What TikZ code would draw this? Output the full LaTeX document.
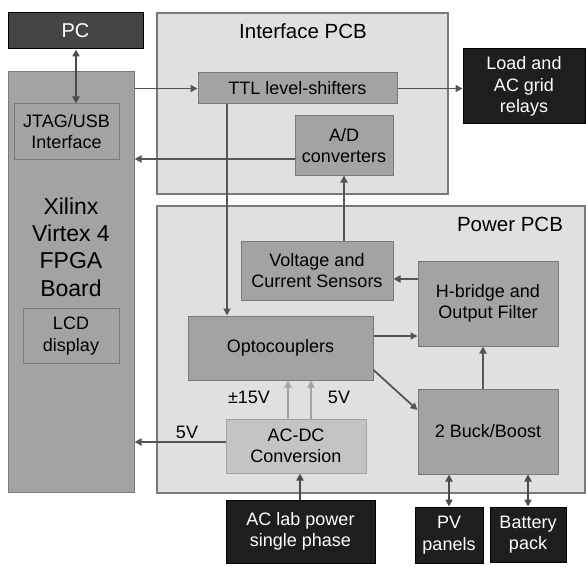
\documentclass[tikz,border=0pt]{standalone}
\usepackage{fontspec}
\setmainfont{Liberation Sans}
\definecolor{boardgray}{HTML}{A3A3A3}
\definecolor{pcbgray}{HTML}{E0E0E0}
\definecolor{edgegray}{HTML}{7A7A7A}
\definecolor{darkbox}{HTML}{1E1E1E}
\definecolor{pcbox}{HTML}{454545}
\definecolor{acdcgray}{HTML}{C4C4C4}
\definecolor{wiregray}{HTML}{555555}
\usepackage{tikz}
\usetikzlibrary{arrows.meta, positioning, calc}
\tikzset{
	blocknode/.style={
			rectangle,
			draw=edgegray,
			line width=1pt,
			fill=boardgray,
			align=center,
			inner sep=0pt,
			font=\fontsize{18}{21.5}\selectfont
		},
	darknode/.style={
			blocknode,
			draw=black,
			fill=darkbox,
			text=white
		},
	pcbnode/.style={
			blocknode,
			draw=edgegray,
			line width=2pt,
			fill=pcbgray
		},
	lightnode/.style={
			blocknode,
			draw=boardgray,
			fill=acdcgray
		},
	arr/.style={
			draw=wiregray,
			line width=1.8pt,
			-{Triangle[length=7pt,width=7pt]}
		},
	dblarr/.style={
			arr,
			draw=darkbox!80,
			{Triangle[length=7pt,width=7pt]}-{Triangle[length=7pt,width=7pt]}
		},
	lightarr/.style={
			arr,
			draw=boardgray
		}
}

\begin{document}
\begin{tikzpicture}[x=1pt, y=-1pt]
\useasboundingbox[fill=white] (0,0) rectangle (586,567);

% boards
\node[pcbnode, minimum width=291, minimum height=181] (ifpcb) at (302.5,103.5) {};
\node[pcbnode, minimum width=428, minimum height=287] (pwrpcb) at (371,349.5) {};
\node[blocknode, minimum width=126, minimum height=420] (fpga) at (71,282) {};
\node[font=\fontsize{20.5}{24}\selectfont] (iftitle) at (303,31) {Interface PCB};
\node[font=\fontsize{20.5}{24}\selectfont] (pwrtitle) at (510,224) {Power PCB};
\node[align=center, font=\fontsize{23}{27.3}\selectfont] (fpgatext) at (71,247) {Xilinx\\Virtex 4\\FPGA\\Board};

% outside world
\node[darknode, fill=pcbox, minimum width=135, minimum height=36, font=\fontsize{20}{24}\selectfont] (pc) at (75.5,31) {PC};
\node[darknode, minimum width=122, minimum height=75] (load) at (524,86.5) {Load and\\AC grid\\relays};
\node[darknode, minimum width=149, minimum height=63] (aclab) at (300.5,531.5) {AC lab power\\single phase};
\node[darknode, minimum width=68, minimum height=56] (pv) at (449,535) {PV\\panels};
\node[darknode, minimum width=76, minimum height=55] (batt) at (528,534.5) {Battery\\pack};

% blocks
\node[blocknode, minimum width=105, minimum height=55] (jtag) at (66.5,131.5) {JTAG/USB\\Interface};
\node[blocknode, minimum width=96, minimum height=55] (lcd) at (71,336) {LCD\\display};
\node[blocknode, minimum width=199, minimum height=31] (ttl) at (297.5,88.5) {TTL level-shifters};
\node[blocknode, minimum width=98, minimum height=59] (adc) at (344,145.5) {A/D\\converters};
\node[blocknode, minimum width=152, minimum height=59] (sens) at (317,270.5) {Voltage and\\Current Sensors};
\node[blocknode, minimum width=140, minimum height=85] (hbr) at (488,303.5) {H-bridge and\\Output Filter};
\node[blocknode, minimum width=185, minimum height=64] (opto) at (280.5,348) {Optocouplers};
\node[lightnode, minimum width=140, minimum height=54] (acdc) at (296,446) {AC-DC\\Conversion};
\node[blocknode, minimum width=140, minimum height=85] (buck) at (488,431.5) {2 Buck/Boost};

% voltage labels
\node[font=\fontsize{18}{21.5}\selectfont] (v15) at (249,397) {±15V};
\node[font=\fontsize{18}{21.5}\selectfont] (v5a) at (339,397) {5V};
\node[font=\fontsize{18}{21.5}\selectfont] (v5b) at (187,432) {5V};

% connections
\draw[dblarr] (pc.south -| 76,0) -- (jtag.north -| 76,0);
\draw[arr] (fpga.east |- ttl.west) -- (ttl.west);
\draw[arr] (adc.west |- 0,159) -- (fpga.east |- 0,159);
\draw[arr] (ttl.east) -- (load.west |- ttl.east);
\draw[arr] (ttl.south -| 227,0) -- (opto.north -| 227,0);
\draw[arr] (sens.north -| adc.south) -- (adc.south);
\draw[arr] (hbr.west |- 0,279) -- (sens.east |- 0,279);
\draw[arr] (opto.east |- 0,336) -- (hbr.west |- 0,336);
\draw[arr] (opto.east |- 0,370) -- (buck.west |- 0,410);
\draw[arr] (buck.north -| 483,0) -- (hbr.south -| 483,0);
\draw[lightarr] (acdc.north -| 288,0) -- (opto.south -| 288,0);
\draw[lightarr] (acdc.north -| 311,0) -- (opto.south -| 311,0);
\draw[arr] (acdc.west |- 0,442) -- (fpga.east |- 0,442);
\draw[arr, draw=darkbox!80] (aclab.north -| 300,0) -- (acdc.south -| 300,0);
\draw[dblarr] (buck.south -| pv.north) -- (pv.north);
\draw[dblarr] (buck.south -| batt.north) -- (batt.north);

\end{tikzpicture}
\end{document}
